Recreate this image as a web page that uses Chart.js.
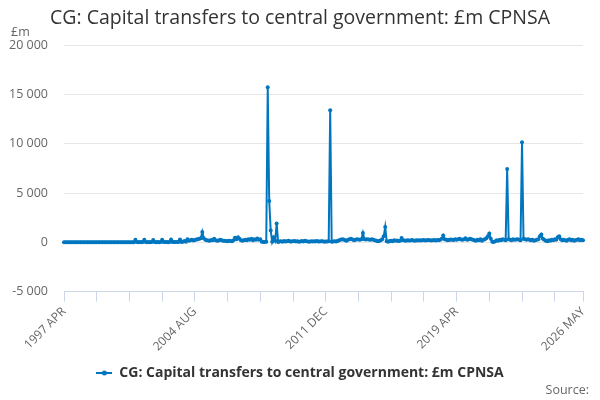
<!DOCTYPE html>
<html>
<head>
<meta charset="utf-8">
<script src="https://cdn.jsdelivr.net/npm/chart.js@4"></script>
<style>
html,body{margin:0;padding:0;background:#fff}
#wrap{width:600px;height:400px;position:relative}
</style>
</head>
<body>
<div id="wrap"><canvas id="c" width="600" height="400"></canvas></div>
<script>
// ---- Data ----
const chartTitle = 'CG: Capital transfers to central government: £m CPNSA';
const seriesName = 'CG: Capital transfers to central government: £m CPNSA';
const unitLabel = '£m';
const sourceLabel = 'Source:';

const monthNames = ['JAN','FEB','MAR','APR','MAY','JUN','JUL','AUG','SEP','OCT','NOV','DEC'];
const firstYear = 1997;
const firstMonthIndex = 3; // APR

// monthly values, 1997 APR .. 2026 MAY (one row per APR-MAR year)
const values = [
  0,0,0,0,0,0,0,0,0,0,0,0,
  0,0,0,0,0,0,0,0,0,0,0,0,
  0,0,0,0,0,0,0,0,0,0,0,0,
  0,0,0,0,0,0,0,0,0,0,0,10,
  250,20,10,20,10,20,260,20,10,20,10,20,
  240,20,10,20,10,20,250,30,20,20,10,30,
  270,30,20,30,20,40,280,40,50,120,60,300,
  150,200,250,180,220,280,300,350,400,1050,400,250,
  200,180,150,220,200,350,200,150,180,250,200,160,
  150,120,100,150,120,100,200,450,300,500,350,200,
  150,200,250,200,300,250,350,200,300,250,380,250,
  300,50,30,20,50,15750,4200,1200,50,500,150,1900,
  20,80,100,60,120,80,100,150,90,70,100,130,
  80,100,60,90,120,70,150,100,80,60,110,90,
  100,80,120,90,70,100,110,60,90,80,100,13400,
  60,80,100,90,120,200,250,300,280,200,150,250,
  300,350,280,200,250,300,280,250,300,950,300,280,
  300,280,250,300,250,200,150,100,120,200,300,600,
  1550,100,50,120,150,100,200,150,180,120,150,440,
  200,180,150,200,170,190,220,180,160,200,180,210,
  190,200,220,180,200,230,210,180,200,220,190,240,
  200,250,350,700,300,250,200,230,280,250,220,300,
  250,300,350,280,250,300,400,250,280,350,300,250,
  200,150,250,200,300,150,250,300,400,600,880,350,
  50,30,100,200,150,250,200,300,250,200,7450,300,
  250,200,300,250,280,300,250,200,10150,350,300,250,
  300,250,200,250,150,200,250,300,600,800,350,250,
  150,100,200,150,250,200,300,250,500,600,300,200,
  250,200,150,250,300,200,250,150,200,250,300,200,
  250,200
];

const categories = [];
for (let i = 0; i < values.length; i++) {
  const k = firstMonthIndex + i;
  categories.push((firstYear + Math.floor(k / 12)) + ' ' + monthNames[k % 12]);
}

const yMin = -5000, yMax = 20000, yStep = 5000;
const tickEvery = 22;
const labelEvery = 88;

// ---- Styling ----
const BLUE = '#0076c0';
const FONT = "'Open Sans', 'DejaVu Sans', sans-serif";

function fmtThousands(v) {
  const s = Math.abs(v).toString().replace(/\B(?=(\d{3})+(?!\d))/g, ' ');
  return (v < 0 ? '-' : '') + s;
}

// legend icon: line with a dot
const legendIcon = document.createElement('canvas');
legendIcon.width = 16; legendIcon.height = 6;
(function(){
  const g = legendIcon.getContext('2d');
  g.strokeStyle = BLUE; g.lineWidth = 2;
  g.beginPath(); g.moveTo(0,3); g.lineTo(16,3); g.stroke();
  g.fillStyle = BLUE; g.beginPath(); g.arc(8,3,2.5,0,Math.PI*2); g.fill();
})();

const extraText = {
  id: 'extraText',
  afterDraw(chart) {
    const ctx = chart.ctx;
    ctx.save();
    ctx.font = '12.5px ' + FONT;
    ctx.fillStyle = '#666';
    ctx.textBaseline = 'middle';
    ctx.textAlign = 'left';
    ctx.fillText(unitLabel, 11, 32);
    ctx.textAlign = 'right';
    ctx.fillText(sourceLabel, 589, 390);
    ctx.restore();
  }
};

const lastIndex = values.length - 1;

new Chart(document.getElementById('c'), {
  type: 'line',
  data: {
    labels: categories,
    datasets: [{
      label: seriesName,
      data: values,
      borderColor: BLUE,
      backgroundColor: BLUE,
      borderWidth: 2,
      pointRadius: 2,
      pointBorderWidth: 0,
      pointHoverRadius: 3,
      tension: 0,
      fill: false
    }]
  },
  options: {
    responsive: false,
    animation: false,
    devicePixelRatio: 1,
    layout: { padding: { left: 0, right: 0, top: 0, bottom: 10 } },
    plugins: {
      title: {
        display: true,
        text: chartTitle,
        color: '#333',
        font: { family: FONT, size: 19.5, weight: 'normal' },
        padding: { top: 6.5, bottom: 15.5 }
      },
      legend: {
        position: 'bottom',
        labels: {
          color: '#333',
          font: { family: FONT, size: 14, weight: 'bold' },
          usePointStyle: true,
          pointStyleWidth: 16,
          padding: 10,
          generateLabels(chart) {
            const items = Chart.defaults.plugins.legend.labels.generateLabels(chart);
            items.forEach(it => { it.pointStyle = legendIcon; });
            return items;
          }
        }
      },
      tooltip: { enabled: false }
    },
    scales: {
      x: {
        type: 'category',
        offset: false,
        grid: { drawOnChartArea: false, tickLength: 10, color: '#ccd6eb', tickColor: '#ccd6eb' },
        border: { color: '#ccd6eb', width: 1 },
        ticks: {
          autoSkip: false,
          minRotation: 45,
          maxRotation: 45,
          color: '#666',
          padding: 3,
          font: { family: FONT, size: 12 },
          callback(value) {
            return (value % labelEvery === 0 || value === lastIndex) ? this.getLabelForValue(value) : '';
          }
        },
        afterBuildTicks(scale) {
          scale.ticks = scale.ticks.filter(t => t.value % tickEvery === 0 || t.value === lastIndex);
        },
        afterFit(scale) { scale.height = 64.5; }
      },
      y: {
        min: yMin,
        max: yMax,
        grid: { color: '#e6e6e6', drawTicks: false },
        border: { display: false },
        ticks: {
          stepSize: yStep,
          color: '#666',
          padding: 16,
          font: { family: FONT, size: 12.5 },
          callback(v) { return fmtThousands(v); }
        },
        afterFit(scale) { scale.width = 64; }
      },
      yRight: {
        position: 'right',
        display: true,
        min: yMin,
        max: yMax,
        grid: { display: false, drawTicks: false },
        border: { display: false },
        ticks: { display: false },
        afterFit(scale) { scale.width = 17; }
      }
    }
  },
  plugins: [extraText]
});
</script>
</body>
</html>
